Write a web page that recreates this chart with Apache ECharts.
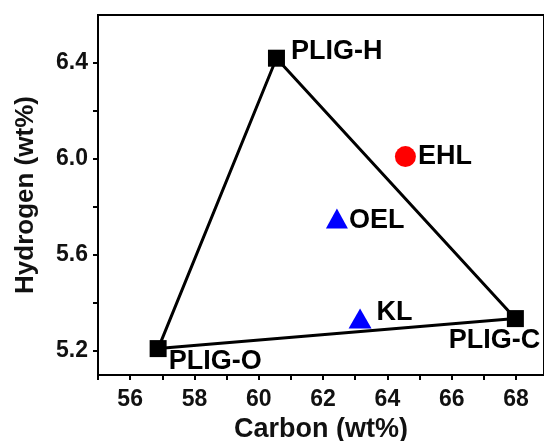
<!DOCTYPE html>
<html>
<head>
    <meta charset="UTF-8">
    <title>Carbon vs Hydrogen</title>
    <script src="https://cdn.jsdelivr.net/npm/echarts@6/dist/echarts.min.js"></script>
    <style>
        html, body { margin: 0; padding: 0; background: #fff; }
        #chart { width: 544px; height: 441px; }
    </style>
</head>
<body>
    <div id="chart"></div>
    <script>
        // 数据：样品名、碳含量、氢含量
        const names = ['PLIG-H', 'PLIG-C', 'PLIG-O', 'EHL', 'OEL', 'KL'];
        const carbon = [60.55, 67.98, 56.87, 64.56, 62.43, 63.15];
        const hydrogen = [6.42, 5.335, 5.21, 6.01, 5.752, 5.335];
        // 三角形顶点顺序（闭合）
        const triangleOrder = ['PLIG-O', 'PLIG-H', 'PLIG-C', 'PLIG-O'];
        const xTicks = [56, 58, 60, 62, 64, 66, 68];
        const yTicks = [5.2, 5.6, 6.0, 6.4];
        const yMinorTicks = [5.2, 5.4, 5.6, 5.8, 6.0, 6.2, 6.4];

        const font = 'Liberation Sans, Arial, sans-serif';
        const pt = name => {
            const i = names.indexOf(name);
            return [carbon[i], hydrogen[i]];
        };

        // 每个点的样式和标签位置
        const style = {
            'PLIG-H': { symbol: 'rect', size: 17, color: '#000', label: { position: 'right', distance: 6, offset: [0, -7] } },
            'PLIG-C': { symbol: 'rect', size: 17, color: '#000', label: { position: 'bottom', distance: 0, offset: [-21, 0] } },
            'PLIG-O': { symbol: 'rect', size: 17, color: '#000', label: { position: 'right', distance: 2, offset: [0, 13] } },
            'EHL': { symbol: 'circle', size: 21, color: '#ff0000', label: { position: 'right', distance: 2, offset: [0, 0] } },
            'OEL': { symbol: 'triangle', size: [22, 20], color: '#0000ff', label: { position: 'right', distance: 1, offset: [0, 2] } },
            'KL': { symbol: 'triangle', size: [23, 20], color: '#0000ff', label: { position: 'right', distance: 5, offset: [0, -6] } }
        };

        const pointData = names.map((n, i) => ({
            name: n,
            value: [carbon[i], hydrogen[i]],
            symbol: style[n].symbol,
            symbolSize: style[n].size,
            itemStyle: { color: style[n].color, opacity: 1 },
            label: {
                show: true,
                formatter: n,
                position: style[n].label.position,
                distance: style[n].label.distance,
                offset: style[n].label.offset,
                fontFamily: font,
                fontWeight: 'bold',
                fontSize: 27,
                color: '#000'
            }
        }));

        let chart = echarts.init(document.getElementById('chart'));
        chart.setOption({
            animation: false,
            grid: {
                left: 98, top: 15, right: 0, bottom: 66,
                outerBoundsMode: 'none',
                show: true, borderColor: '#000', borderWidth: 2
            },
            xAxis: {
                type: 'value',
                min: 55, max: 68.87, interval: 1,
                name: 'Carbon (wt%)',
                nameLocation: 'middle',
                nameGap: 41,
                nameTextStyle: { fontFamily: font, fontWeight: 'bold', fontSize: 27, color: '#111' },
                axisLine: { onZero: false, lineStyle: { color: '#000', width: 2 } },
                axisTick: { show: true, length: 5, lineStyle: { color: '#000', width: 2 } },
                axisLabel: {
                    margin: 13,
                    showMaxLabel: false,
                    fontFamily: font, fontWeight: 'bold', fontSize: 23, color: '#111',
                    formatter: v => xTicks.includes(v) ? String(v) : ''
                },
                splitLine: { show: false }
            },
            yAxis: {
                type: 'value',
                min: 5.1, max: 6.6,
                name: 'Hydrogen (wt%)',
                nameLocation: 'middle',
                nameGap: 59,
                nameTextStyle: { fontFamily: font, fontWeight: 'bold', fontSize: 26, color: '#111' },
                axisLine: { onZero: false, lineStyle: { color: '#000', width: 2 } },
                axisTick: { show: true, length: 5, customValues: yMinorTicks, lineStyle: { color: '#000', width: 2 } },
                axisLabel: {
                    margin: 10,
                    customValues: yTicks,
                    fontFamily: font, fontWeight: 'bold', fontSize: 23, color: '#111',
                    formatter: v => v.toFixed(1)
                },
                splitLine: { show: false }
            },
            series: [
                {
                    type: 'line',
                    data: triangleOrder.map(pt),
                    showSymbol: false,
                    lineStyle: { color: '#000', width: 3 },
                    z: 1
                },
                {
                    type: 'scatter',
                    data: pointData,
                    z: 2
                }
            ]
        });
    </script>
</body>
</html>
